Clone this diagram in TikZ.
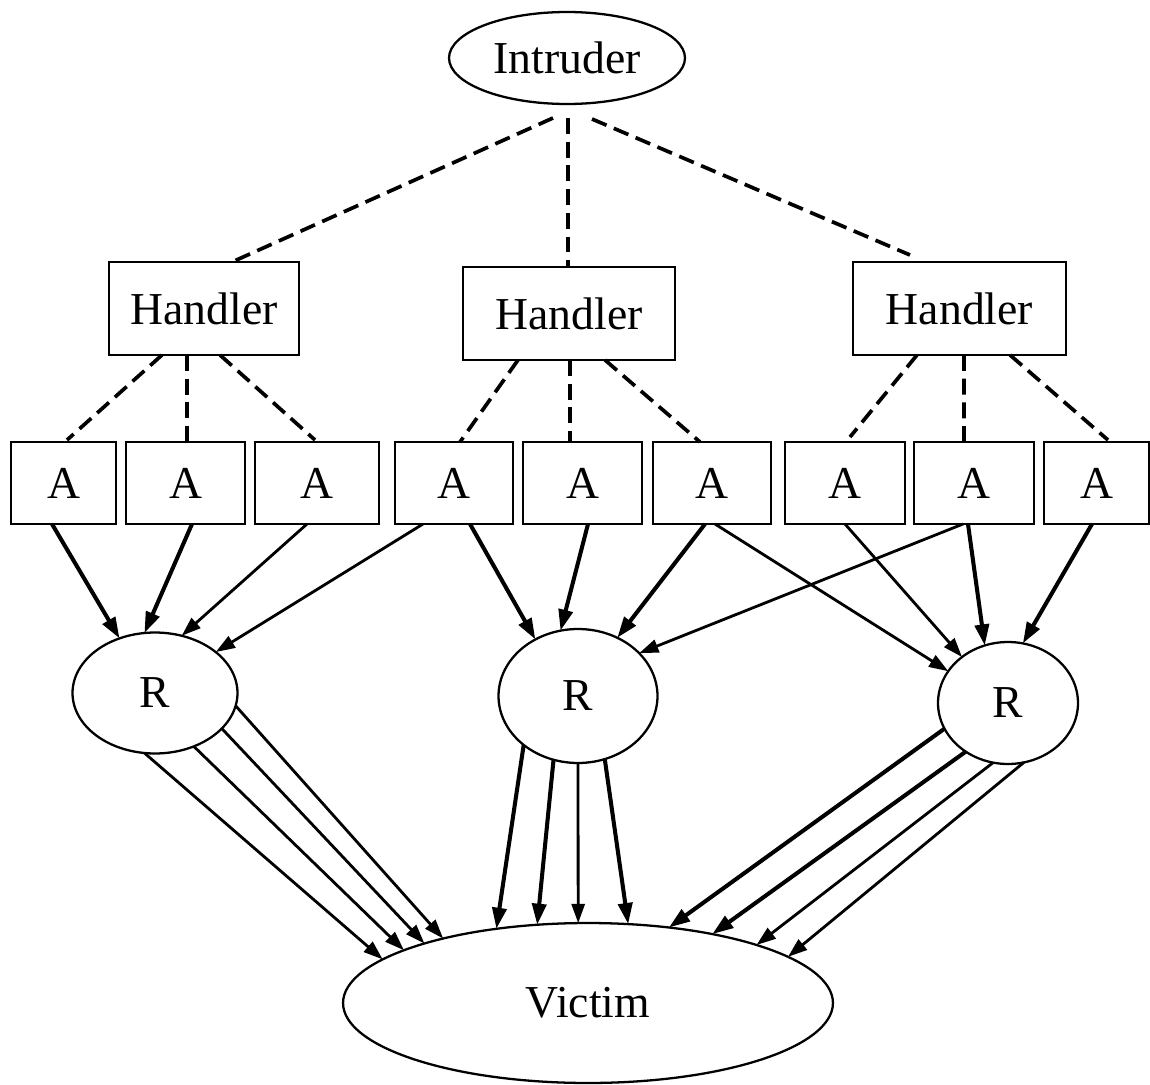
\documentclass[tikz,border=0pt]{standalone}
\usepackage{fontspec}
\setmainfont{Liberation Serif}
\usetikzlibrary{shapes.geometric,arrows.meta,calc}
\begin{document}
\begin{tikzpicture}[x=0.02cm,y=-0.02cm,
  every node/.style={font=\fontsize{26}{30}\selectfont, inner sep=0pt, outer sep=0pt},
  hbox/.style={draw, line width=1.3pt, rectangle, minimum height=1.86cm},
  abox/.style={draw, line width=1.3pt, rectangle, minimum height=1.64cm},
  ell/.style={draw, line width=1.3pt, ellipse},
  dsh/.style={line width=2.1pt, dash pattern=on 9pt off 4.5pt},
  arr/.style={line width=2.3pt, -{Triangle[length=12pt,width=8pt]}},
  arrt/.style={line width=1.6pt, -{Triangle[length=11pt,width=7.5pt]}},
]
\useasboundingbox[fill=white] (0,0) rectangle (1150,1085);

% nodes
\node[ell, minimum width=4.72cm, minimum height=1.84cm] (I) at (567,58) {Intruder};

\node[hbox, minimum width=3.8cm]  (H1) at (204,308.5) {Handler};
\node[hbox, minimum width=4.24cm] (H2) at (569,313.5) {Handler};
\node[hbox, minimum width=4.26cm] (H3) at (959.5,308.5) {Handler};

\node[abox, minimum width=2.1cm]  (A1) at (63.5,483) {A};
\node[abox, minimum width=2.38cm] (A2) at (185.5,483) {A};
\node[abox, minimum width=2.48cm] (A3) at (317,483) {A};
\node[abox, minimum width=2.36cm] (A4) at (454,483) {A};
\node[abox, minimum width=2.38cm] (A5) at (582.5,483) {A};
\node[abox, minimum width=2.36cm] (A6) at (712,483) {A};
\node[abox, minimum width=2.4cm]  (A7) at (845,483) {A};
\node[abox, minimum width=2.4cm]  (A8) at (974,483) {A};
\node[abox, minimum width=2.1cm]  (A9) at (1096.5,483) {A};

\node[ell, minimum width=3.3cm,  minimum height=2.42cm] (R1) at (155,693) {R};
\node[ell, minimum width=3.18cm, minimum height=2.68cm] (R2) at (578,696) {R};
\node[ell, minimum width=2.8cm,  minimum height=2.44cm] (R3) at (1008,703) {R};

\node[ell, minimum width=9.8cm, minimum height=3.2cm] (V) at (588,1003) {Victim};

% intruder -> handlers
\draw[dsh] ($(I)+(-14,60)$) -- ($(H1)+(28,-46.5)$);
\draw[dsh] ($(I)+(1,60)$)   -- ($(H2)+(-1,-46.5)$);
\draw[dsh] ($(I)+(25,61)$)  -- ($(H3)+(-49.5,-53.5)$);

% handlers -> agents
\draw[dsh] ($(H1)+(-42,46.5)$) -- ($(A1)+(3.5,-43)$);
\draw[dsh] ($(H1)+(-17,46.5)$) -- ($(A2)+(1.5,-41)$);
\draw[dsh] ($(H1)+(16,46.5)$)  -- ($(A3)+(-2,-43)$);
\draw[dsh] ($(H2)+(-51,46.5)$) -- ($(A4)+(6,-41)$);
\draw[dsh] ($(H2)+(1,46.5)$)   -- ($(A5)+(-12.5,-41)$);
\draw[dsh] ($(H2)+(36,46.5)$)  -- ($(A6)+(-12,-41)$);
\draw[dsh] ($(H3)+(-42.5,46.5)$) -- ($(A7)+(5,-46)$);
\draw[dsh] ($(H3)+(4.5,46.5)$)   -- ($(A8)+(-10,-41)$);
\draw[dsh] ($(H3)+(50.5,46.5)$)  -- ($(A9)+(11.5,-43)$);

% agents -> reflectors
\draw[arr]  ($(A1)+(-11.5,41)$) -- (R1.123.7);
\draw[arr]  ($(A2)+(6.5,41)$)   -- (R1.100.8);
\draw[arrt] ($(A3)+(-10,41)$)   -- (R1.65);
\draw[arrt] ($(A4)+(-31,41)$)   -- (R1.34.7);
\draw[arr]  ($(A4)+(16,41)$)    -- (R2.127.8);
\draw[arr]  ($(A5)+(5.5,41)$)   -- (R2.105.9);
\draw[arr]  ($(A6)+(-7,41)$)    -- (R2.56.5);
\draw[arrt] ($(A6)+(3,41)$)     -- (R3.152.7);
\draw[arrt] ($(A7)+(0,41)$)     -- (R3.135);
\draw[arrt] ($(A8)+(-11,41)$)   -- (R2.35.7);
\draw[arr]  ($(A8)+(-6,41)$)    -- (R3.112.3);
\draw[arr]  ($(A9)+(-4.5,41)$)  -- (R3.76.6);

% reflectors -> victim
\draw[arrt] (R1.260.5) -- (V.168.3);
\draw[arrt] (R1.-54.9) -- (V.164.5);
\draw[arrt] (R1.-28.9) -- (V.160.7);
\draw[arrt] (R1.-9.7)  -- (V.156);

\draw[arr]  (R2.222.3) -- (V.141.3);
\draw[arr]  (R2.249.5) -- (V.123.9);
\draw[arrt] (R2.270)   -- (V.97.1);
\draw[arr]  (R2.293)   -- (V.63.1);

\draw[arr]  (R3.202.2) -- (V.43.9);
\draw[arr]  (R3.229.3) -- (V.29.4);
\draw[arrt] (R3.256.4) -- (V.19.2);
\draw[arrt] (R3.285.8) -- (V.13.4);
\end{tikzpicture}
\end{document}
